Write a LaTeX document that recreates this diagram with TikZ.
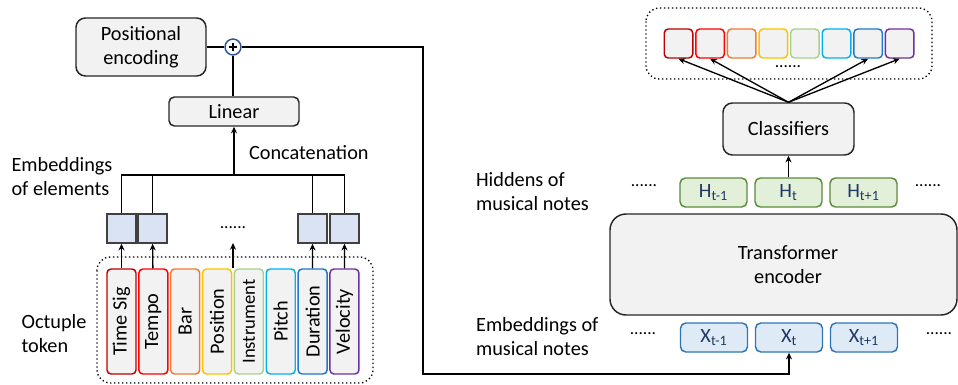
\documentclass[tikz,border=0pt]{standalone}
\usepackage{fontspec}
\setmainfont{Carlito}
\usetikzlibrary{arrows.meta,positioning}

\definecolor{tsig}{HTML}{C00000}
\definecolor{tempo}{HTML}{FF0000}
\definecolor{bar}{HTML}{ED7D31}
\definecolor{posn}{HTML}{FFC000}
\definecolor{inst}{HTML}{A9D18E}
\definecolor{pitch}{HTML}{00B0F0}
\definecolor{dur}{HTML}{1F78C8}
\definecolor{vel}{HTML}{7030A0}
\definecolor{boxgray}{HTML}{F2F2F2}
\definecolor{embfill}{HTML}{DAE3F3}
\definecolor{hidfill}{HTML}{E2F0D9}
\definecolor{hiddraw}{HTML}{5B8C3A}
\definecolor{xfill}{HTML}{DEEBF7}
\definecolor{xdraw}{HTML}{2E75B6}
\definecolor{navy}{HTML}{1F3864}
\definecolor{plusblue}{HTML}{2F5597}

\begin{document}
\begin{tikzpicture}[x=0.75pt,y=-0.75pt,
    font=\fontsize{15.2}{18}\selectfont,
    >={Stealth[length=5pt,width=4.5pt]},
    line width=1pt,
    blockbox/.style={draw=black!85,fill=boxgray,line width=1.1pt,align=center,inner sep=0pt},
    tokbox/.style={draw=#1,fill=boxgray,line width=1.1pt,rounded corners=3pt,rotate=90,
        minimum width=78.75pt,minimum height=21.75pt,inner sep=0pt},
    outbox/.style={draw=#1,fill=boxgray,line width=1.1pt,rounded corners=3pt,
        minimum width=21.4pt,minimum height=21.75pt,inner sep=0pt},
    embbox/.style={draw=black!75,fill=embfill,line width=1.1pt,
        minimum width=21.75pt,minimum height=21.75pt,inner sep=0pt},
    notebox/.style={line width=1.1pt,rounded corners=4pt,text=navy,
        minimum width=50.25pt,minimum height=21.75pt,inner sep=0pt},
    groupbox/.style={draw,dotted,line width=1pt,rounded corners=10pt},
    dotsnode/.style={inner sep=0pt,font=\fontsize{13}{15}\selectfont}]
\useasboundingbox (0,0) rectangle (958,385);

% octuple token side
\draw[groupbox] (97,257) rectangle (373,383);
\foreach \name/\lbl/\col [count=\i from 0] in {ts/Time Sig/tsig,tp/Tempo/tempo,br/Bar/bar,
    ps/Position/posn,in/{\fontsize{14}{16}\selectfont Instrument}/inst,pt/Pitch/pitch,du/Duration/dur,ve/Velocity/vel}
  \node[tokbox=\col] (\name) at (121.5+31.85*\i,321.5) {\lbl};

\node[embbox] (e1) at (121.5,228.5) {};
\node[embbox] (e2) at (152.5,228.5) {};
\node[embbox] (e3) at (312.5,228.5) {};
\node[embbox] (e4) at (344.5,228.5) {};
\node[dotsnode] (edots) at (233,228) {......};

\draw[->] (ts) -- (e1);
\draw[->] (tp) -- (e2);
\draw[->] (du) -- (e3);
\draw[->] (ve) -- (e4);
\coordinate (midtok) at (233,268);
\coordinate (middots) at (233,243);
\draw[->] (midtok) -- (middots);

% concatenation and linear
\coordinate (cat) at (234,175);
\node[blockbox,rounded corners=4pt,minimum width=97.5pt,minimum height=21.75pt] (lin) at (234,111.5) {Linear};
\node[blockbox,rounded corners=7pt,minimum width=97.5pt,minimum height=43.5pt] (pe) at (141,47) {Positional\\encoding};
\node[circle,draw=plusblue,fill=white,line width=1.1pt,minimum size=12pt,inner sep=0pt] (plus) at (233,47) {};
\draw[line width=1.6pt] ([xshift=-3.2pt]plus.center) -- ([xshift=3.2pt]plus.center)
    ([yshift=-3.2pt]plus.center) -- ([yshift=3.2pt]plus.center);

\draw (e1.north) -- (e1.north |- cat) -- (e4.north |- cat) -- (e4.north);
\draw (e2.north) -- (e2.north |- cat);
\draw (e3.north) -- (e3.north |- cat);
\draw[->] (cat) -- (lin);
\draw (lin.north -| plus) -- (plus);
\draw (pe) -- (plus);

\node[anchor=west] (catlbl) at (244,153) {Concatenation};
\node[align=left] (emblbl) at (62,177) {Embeddings\\of elements};
\node[align=left] (octlbl) at (54,334) {Octuple\\token};

% transformer side
\node[blockbox,rounded corners=12pt,minimum width=260.25pt,minimum height=75.75pt] (enc) at (783.5,264.5) {};
\node[align=center] (enclbl) at (788,265) {Transformer\\encoder};

\foreach \name/\lbl [count=\i from -1] in {xa/X\textsubscript{t-1},xt/X\textsubscript{t},xb/X\textsubscript{t+1}}
  \node[notebox,draw=xdraw,fill=xfill] (\name) at (789+75*\i,337.5) {\lbl};
\foreach \name/\lbl [count=\i from -1] in {ha/H\textsubscript{t-1},ht/H\textsubscript{t},hb/H\textsubscript{t+1}}
  \node[notebox,draw=hiddraw,fill=hidfill] (\name) at (788.5+75*\i,192.5) {\lbl};

\node[dotsnode] (xdl) at (643,334) {......};
\node[dotsnode] (xdr) at (939,334) {......};
\node[dotsnode] (hdl) at (644,186) {......};
\node[dotsnode] (hdr) at (928,186) {......};

\node[align=left,anchor=west] (hidlbl) at (471,192) {Hiddens of\\musical notes};
\node[align=left,anchor=west] (xlbl) at (471,337) {Embeddings of\\musical notes};

\node[blockbox,rounded corners=7pt,minimum width=98.25pt,minimum height=39pt] (cls) at (788.5,129) {Classifiers};
\draw[->] (ht) -- (cls);

\draw[groupbox] (646,8) rectangle (932,79);
\foreach \name/\col [count=\i from 0] in {o1/tsig,o2/tempo,o3/bar,o4/posn,o5/inst,o6/pitch,o7/dur,o8/vel}
  \node[outbox=\col] (\name) at (678.5+31.6*\i,43.5) {};
\node[dotsnode] (odots) at (788,67) {......};
\foreach \o in {o1,o2,o7,o8}
  \draw[->] (cls.north) -- (\o.south);

% positional sum into the note embedding
\coordinate (turn) at (423,374);
\draw[->] (plus.east) -| (turn) -| (xt.south);
\end{tikzpicture}
\end{document}
